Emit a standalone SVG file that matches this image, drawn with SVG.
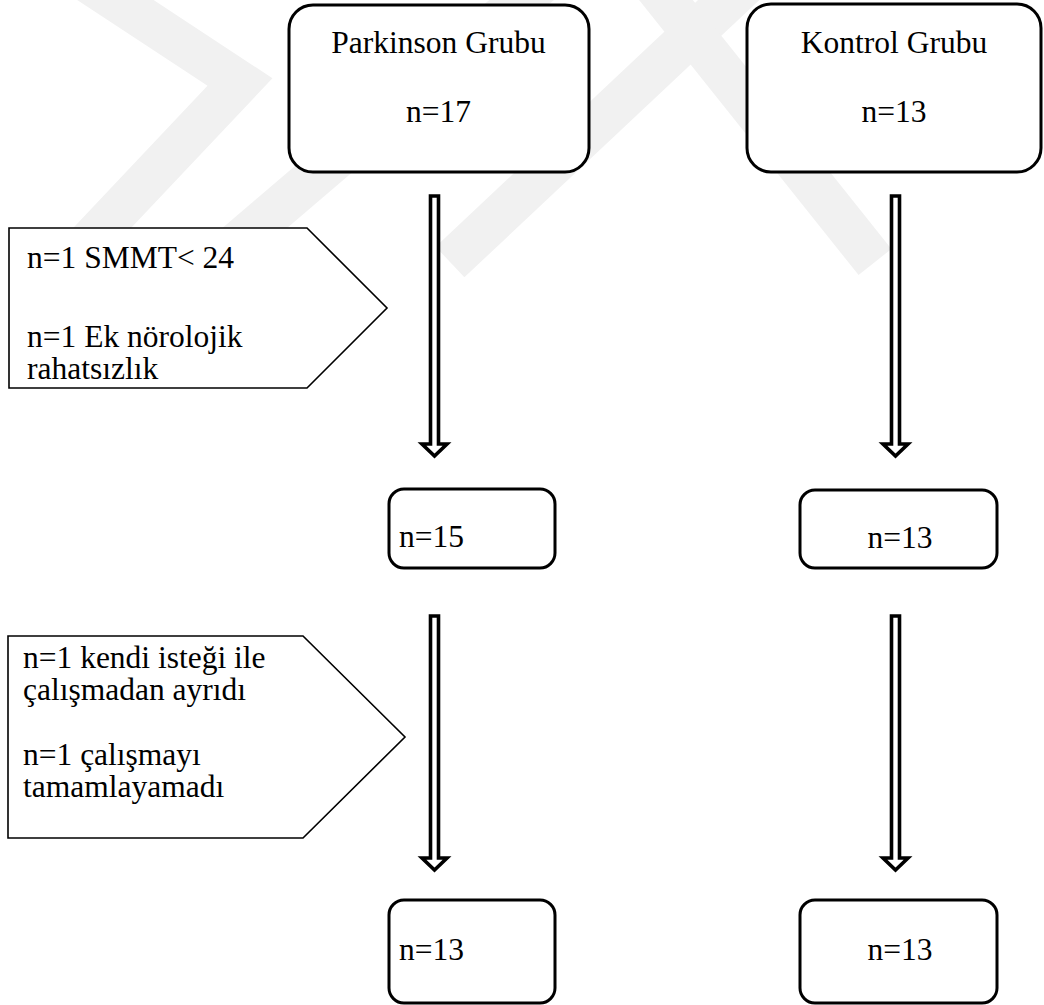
<svg xmlns="http://www.w3.org/2000/svg" width="1044" height="1005" viewBox="0 0 1044 1005">
<style>
.box{fill:#fff;stroke:#000;stroke-width:3}
.call{fill:#fff;stroke:#000;stroke-width:1.6}
.arr{fill:#fff;stroke:#000;stroke-width:3.6;stroke-linejoin:miter;stroke-miterlimit:10}
text{font-family:"Liberation Serif","Times New Roman","DejaVu Serif",serif;font-size:31.5px;fill:#000}
.c{text-anchor:middle}
.wm{fill:none;stroke:#f1f1f1;stroke-width:42;stroke-linejoin:miter}
</style>
<rect width="1044" height="1005" fill="#fff"/>
<g id="watermark">
<polyline class="wm" points="85,-20 240,82 70,262"/>
<line class="wm" x1="215" y1="262" x2="545" y2="-20"/>
<line class="wm" x1="450" y1="262" x2="750" y2="-20"/>
<line class="wm" x1="875" y1="262" x2="650" y2="-20"/>
</g>
<g id="connectors">
<path id="a1" class="arr" d="M430.5,196 H438.5 V444 H447 L434.5,456 L422,444 H430.5 Z"/>
<path id="a2" class="arr" d="M891.5,196 H899.5 V444 H908 L895.5,456 L883,444 H891.5 Z"/>
<path id="a3" class="arr" d="M430.5,616 H438.5 V858 H447 L434.5,870 L422,858 H430.5 Z"/>
<path id="a4" class="arr" d="M891.5,616 H899.5 V858 H908 L895.5,870 L883,858 H891.5 Z"/>
</g>
<g id="n_parkinson">
<rect class="box" x="289" y="5" width="300" height="167" rx="24"/>
<text class="c" x="438.5" y="53">Parkinson Grubu</text>
<text class="c" x="438.5" y="122">n=17</text>
</g>
<g id="n_kontrol">
<rect class="box" x="747" y="4" width="294" height="168" rx="24"/>
<text class="c" x="894" y="53">Kontrol Grubu</text>
<text class="c" x="894" y="122">n=13</text>
</g>
<g id="n_excl1">
<path class="call" d="M9,228 H307 L387,308 L307,388 H9 Z"/>
<text x="27" y="268">n=1 SMMT&lt; 24</text>
<text x="27" y="347">n=1 Ek nörolojik</text>
<text x="27" y="379">rahatsızlık</text>
</g>
<g id="n_p15">
<rect class="box" x="389" y="489" width="166" height="79" rx="15"/>
<text x="399" y="547">n=15</text>
</g>
<g id="n_k13a">
<rect class="box" x="800" y="490" width="197" height="78" rx="15"/>
<text class="c" x="900" y="548">n=13</text>
</g>
<g id="n_excl2">
<path class="call" d="M8,636 H303 L405,737 L303,838 H8 Z"/>
<text x="23" y="668">n=1 kendi isteği ile</text>
<text x="23" y="700">çalışmadan ayrıdı</text>
<text x="23" y="765">n=1 çalışmayı</text>
<text x="23" y="797">tamamlayamadı</text>
</g>
<g id="n_p13">
<rect class="box" x="389" y="900" width="166" height="103" rx="15"/>
<text x="399" y="960">n=13</text>
</g>
<g id="n_k13b">
<rect class="box" x="800" y="900" width="197" height="103" rx="15"/>
<text class="c" x="900" y="960">n=13</text>
</g>
</svg>
